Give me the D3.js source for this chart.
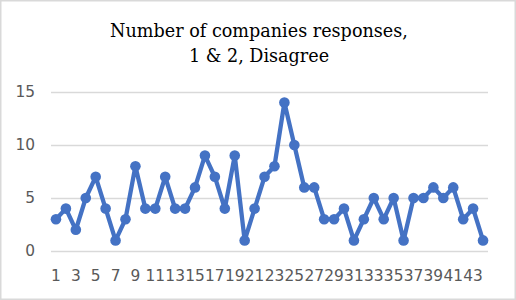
<!DOCTYPE html>
<html><head><meta charset="utf-8">
<script src="https://cdn.jsdelivr.net/npm/d3@7"></script>
<style>html,body{margin:0;padding:0;background:#fff}</style>
</head><body>
<svg id="c" width="516" height="300"></svg>
<script>
const titleLines = ["Number of companies responses,", "1 & 2, Disagree"];
const categories = d3.range(1, 45).map(String);
const values = [3,4,2,5,7,4,1,3,8,4,4,7,4,4,6,9,7,4,9,1,4,7,8,14,10,6,6,3,3,4,1,3,5,3,5,1,5,5,6,5,6,3,4,1];
const yTicks = [0,5,10,15];
const xTickLabels = categories.filter((d,i)=>i%2===0);

const svg = d3.select("#c");
const W=516,H=300;
svg.append("rect").attr("x",0.75).attr("y",0.75).attr("width",W-1.5).attr("height",H-1.5)
  .attr("fill","#fff").attr("stroke","#d9d9d9").attr("stroke-width",1.5);

const m={left:51,right:28,top:92,bottom:49};
const x=d3.scaleBand().domain(categories).range([m.left,W-m.right]);
const y=d3.scaleLinear().domain([0,15]).range([H-m.bottom,m.top]);

const t=svg.append("text").attr("text-anchor","middle").attr("font-family","'DejaVu Serif', serif")
  .attr("font-size",17.6).attr("fill","#000");
titleLines.forEach((l,i)=>t.append("tspan").attr("x",W/2+1).attr("y",37+i*25).text(l));

const ya=svg.append("g").attr("transform",`translate(${m.left},0)`)
  .call(d3.axisLeft(y).tickValues(yTicks).tickSize(-(W-m.left-m.right)).tickPadding(16));
ya.select(".domain").remove();
ya.selectAll(".tick line").attr("stroke","#d9d9d9").attr("stroke-width",1.5);
ya.selectAll(".tick text").attr("font-family","'DejaVu Sans', sans-serif").attr("font-size",15.4).attr("fill","#595959");

const xa=svg.append("g").attr("transform",`translate(0,${H-m.bottom})`)
  .call(d3.axisBottom(x).tickValues(xTickLabels).tickSize(0).tickPadding(19));
xa.select(".domain").remove();
xa.selectAll(".tick text").attr("font-family","'DejaVu Sans', sans-serif").attr("font-size",15.4).attr("fill","#595959");

const cx=(d,i)=>x(categories[i])+x.bandwidth()/2;
svg.append("path").datum(values).attr("fill","none").attr("stroke","#4472C4").attr("stroke-width",4.3)
  .attr("stroke-linejoin","round")
  .attr("d",d3.line().x(cx).y(d=>y(d)));
svg.append("g").selectAll("circle").data(values).join("circle")
  .attr("cx",cx).attr("cy",d=>y(d)).attr("r",5.3).attr("fill","#4472C4");
</script>
</body></html>
